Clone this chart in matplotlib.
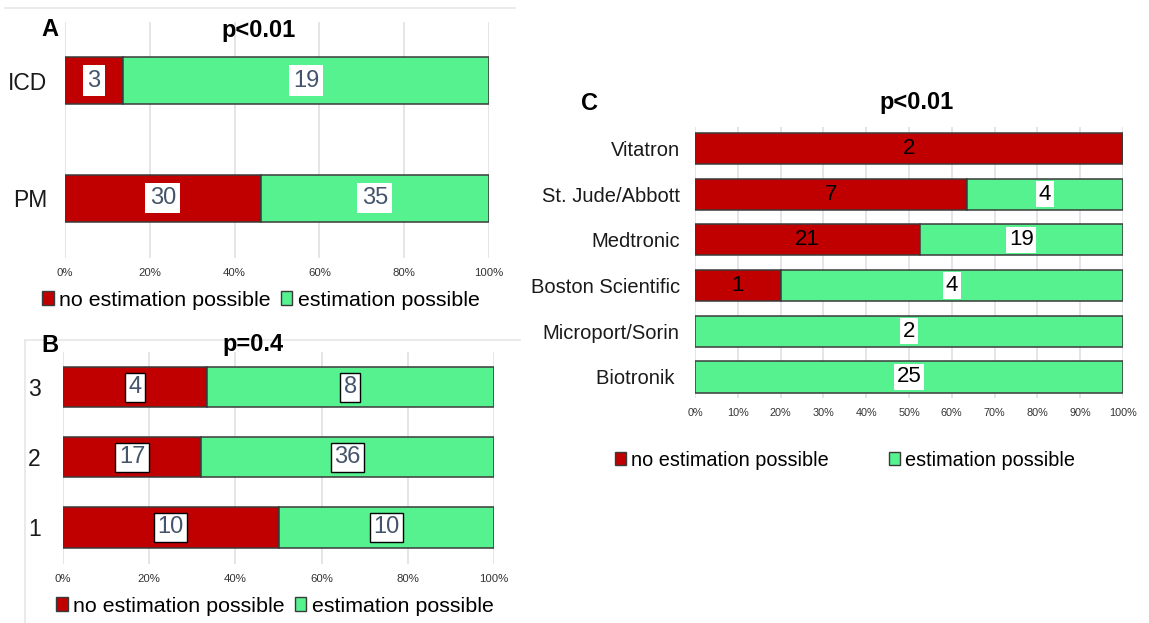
import numpy as np
import matplotlib
matplotlib.use("Agg")
import matplotlib.pyplot as plt
import matplotlib.ticker as mtick
from matplotlib.patches import Patch
from matplotlib.lines import Line2D

plt.rcParams["font.family"] = ["Liberation Sans", "DejaVu Sans"]

# ----------------------------
# DATA
# ----------------------------
cats_a      = ["ICD", "PM"]
no_est_a    = [3, 30]
est_a       = [19, 35]

cats_b      = ["3", "2", "1"]
no_est_b    = [4, 17, 10]
est_b       = [8, 36, 10]

cats_c      = ["Vitatron", "St. Jude/Abbott", "Medtronic", "Boston Scientific",
               "Microport/Sorin", "Biotronik "]
no_est_c    = [2, 7, 21, 1, 0, 0]
est_c       = [0, 4, 19, 4, 2, 25]

lbl_no      = "no estimation possible"
lbl_yes     = "estimation possible"

RED         = "#C00000"
GREEN       = "#55F28F"
EDGE        = "#3A3A3A"
GRID        = "#DEDEE3"
SLATE       = "#44546A"

fig = plt.figure(figsize=(11.49, 6.23), dpi=100)
W, H = 1149, 623


def ax_px(x0, y0, x1, y1):
    # axes from pixel box (top-left origin)
    return fig.add_axes([x0 / W, 1 - y1 / H, (x1 - x0) / W, (y1 - y0) / H])


def draw_panel(ax, cats, no_est, est, bar_h, ylim, xstep, ytick_fs, ypad,
               txt_color, box_red, box_green, val_fs, xtick_fs):
    no_est = np.array(no_est, dtype=float)
    est = np.array(est, dtype=float)
    tot = no_est + est
    p_no = no_est / tot
    p_yes = est / tot
    ypos = np.arange(len(cats))[::-1]

    ax.barh(ypos, p_no, height=bar_h, color=RED, edgecolor=EDGE, linewidth=1.1, zorder=3)
    ax.barh(ypos, p_yes, left=p_no, height=bar_h, color=GREEN, edgecolor=EDGE,
            linewidth=1.1, zorder=3)

    for y, a, b, pa, pb in zip(ypos, no_est, est, p_no, p_yes):
        if a > 0:
            ax.text(pa / 2, y, f"{int(a)}", ha="center", va="center", fontsize=val_fs,
                    color=txt_color, zorder=5, bbox=box_red)
        if b > 0:
            ax.text(pa + pb / 2, y, f"{int(b)}", ha="center", va="center", fontsize=val_fs,
                    color=txt_color, zorder=5, bbox=box_green)

    ax.set_xlim(0, 1)
    ax.set_ylim(*ylim)
    ax.set_xticks(np.arange(0, 1.0001, xstep))
    ax.xaxis.set_major_formatter(mtick.PercentFormatter(xmax=1, decimals=0))
    ax.set_yticks(ypos)
    ax.set_yticklabels(cats, fontsize=ytick_fs)
    ax.tick_params(axis="x", length=0, labelsize=xtick_fs, labelcolor="#333333", pad=7)
    ax.tick_params(axis="y", length=0, pad=ypad, labelcolor="#1A1A1A")
    ax.grid(axis="x", color=GRID, linewidth=1.1, zorder=0)
    for s in ax.spines.values():
        s.set_visible(False)


def legend_at(cx, cy, fs, colsp):
    handles = [Patch(facecolor=RED, edgecolor=EDGE, label=lbl_no),
               Patch(facecolor=GREEN, edgecolor=EDGE, label=lbl_yes)]
    fig.legend(handles=handles, loc="center", bbox_to_anchor=(cx / W, 1 - cy / H),
               ncol=2, frameon=False, fontsize=fs, handlelength=0.55, handleheight=0.6,
               handletextpad=0.25, columnspacing=colsp, borderpad=0, borderaxespad=0)


# ----------------------------
# PANEL A
# ----------------------------
ax_a = ax_px(65, 22, 489, 258)
draw_panel(ax_a, cats_a, no_est_a, est_a, bar_h=0.40, ylim=(-0.51, 1.50), xstep=0.2,
           ytick_fs=16.5, ypad=13, txt_color=SLATE,
           box_red=dict(boxstyle="square,pad=0.18", fc="white", ec="none"),
           box_green=dict(boxstyle="square,pad=0.18", fc="white", ec="none"),
           val_fs=17, xtick_fs=8.2)
fig.text(50 / W, 1 - 30 / H, "A", ha="center", va="center", fontsize=17, fontweight="bold")
fig.text(259 / W, 1 - 30 / H, "p<0.01", ha="center", va="center", fontsize=17,
         fontweight="bold")
legend_at(261, 300, 15.4, 0.45)

# ----------------------------
# PANEL B
# ----------------------------
ax_b = ax_px(63, 352, 494, 564)
draw_panel(ax_b, cats_b, no_est_b, est_b, bar_h=0.57, ylim=(-0.52, 2.50), xstep=0.2,
           ytick_fs=16.5, ypad=16, txt_color=SLATE,
           box_red=dict(boxstyle="square,pad=0.15", fc="white", ec="black", lw=1),
           box_green=dict(boxstyle="square,pad=0.15", fc="white", ec="black", lw=1),
           val_fs=17, xtick_fs=8.2)
fig.text(50 / W, 1 - 345 / H, "B", ha="center", va="center", fontsize=17, fontweight="bold")
fig.text(253 / W, 1 - 345 / H, "p=0.4", ha="center", va="center", fontsize=17,
         fontweight="bold")
legend_at(275, 606, 15.4, 0.45)

# ----------------------------
# PANEL C
# ----------------------------
ax_c = ax_px(695, 127, 1123, 398)
draw_panel(ax_c, cats_c, no_est_c, est_c, bar_h=0.68, ylim=(-0.46, 5.47), xstep=0.1,
           ytick_fs=14.5, ypad=11, txt_color="black",
           box_red=None,
           box_green=dict(boxstyle="square,pad=0.12", fc="white", ec="none"),
           val_fs=16, xtick_fs=7.8)
fig.text(590 / W, 1 - 103 / H, "C", ha="center", va="center", fontsize=17, fontweight="bold")
fig.text(917 / W, 1 - 103 / H, "p<0.01", ha="center", va="center", fontsize=17,
         fontweight="bold")
legend_at(845, 460, 14.3, 3.0)

# frame lines from the composite figure
fig.add_artist(Line2D([5 / W, 515 / W], [1 - 8 / H, 1 - 8 / H], color="#E6E6E6", lw=1.2))
fig.add_artist(Line2D([25 / W, 520 / W], [1 - 340 / H, 1 - 340 / H], color="#E6E6E6", lw=1.2))
fig.add_artist(Line2D([25 / W, 25 / W], [1 - 340 / H, 0], color="#E6E6E6", lw=1.2))

fig.savefig("out.png", dpi=100)
